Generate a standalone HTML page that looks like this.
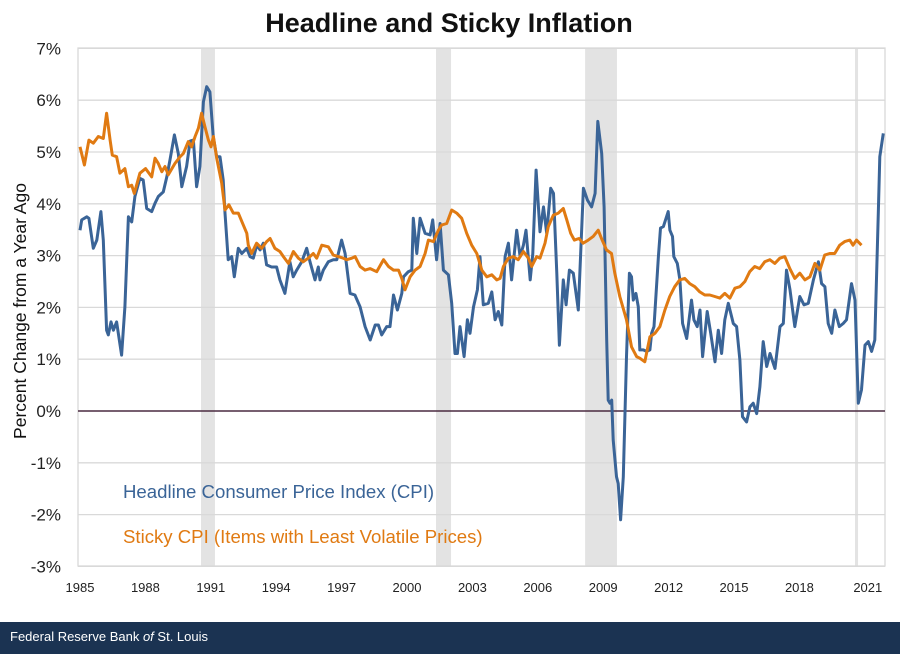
<!DOCTYPE html>
<html><head><meta charset="utf-8">
<style>
body{margin:0;background:#fff;width:900px;height:654px;overflow:hidden;font-family:"Liberation Sans",sans-serif;}
#footer{position:absolute;left:0;top:622px;width:900px;height:32px;background:#1b3352;color:#fff;font-size:13px;line-height:30px;padding-left:10px;box-sizing:border-box;}
</style></head><body>
<svg id="chart" width="900" height="622" style="position:absolute;left:0;top:0"></svg>
<div id="footer">Federal Reserve Bank <i>of</i> St. Louis</div>
<script>
const yTicks=[7,6,5,4,3,2,1,0,-1,-2,-3];
const xTickYears=[1985,1988,1991,1994,1997,2000,2003,2006,2009,2012,2015,2018,2021];
const recessions=[[1990.55,1991.19],[2001.33,2002.02],[2008.17,2009.63],[2020.55,2020.69]];
const cpiYears=[1985.0,1985.08,1985.31,1985.41,1985.61,1985.77,1985.96,1986.07,1986.22,1986.30,1986.42,1986.53,1986.68,1986.91,1987.06,1987.22,1987.37,1987.52,1987.75,1987.90,1988.06,1988.29,1988.44,1988.59,1988.82,1988.98,1989.13,1989.33,1989.51,1989.67,1989.89,1990.05,1990.20,1990.35,1990.50,1990.66,1990.81,1990.96,1991.11,1991.27,1991.42,1991.57,1991.65,1991.80,1991.96,1992.08,1992.26,1992.42,1992.65,1992.80,1992.95,1993.11,1993.26,1993.41,1993.56,1993.79,1994.02,1994.17,1994.40,1994.63,1994.78,1994.94,1995.17,1995.40,1995.55,1995.78,1995.93,1996.01,1996.16,1996.39,1996.62,1996.78,1997.00,1997.16,1997.39,1997.61,
1997.85,1998.08,1998.31,1998.54,1998.69,1998.84,1999.07,1999.22,1999.38,1999.56,1999.76,1999.84,2000.06,2000.22,2000.29,2000.45,2000.60,2000.83,2001.06,2001.18,2001.36,2001.52,2001.67,2001.90,2002.05,2002.20,2002.31,2002.43,2002.62,2002.77,2002.89,2003.05,2003.23,2003.35,2003.50,2003.73,2003.89,2004.04,2004.19,2004.35,2004.50,2004.65,2004.80,2005.03,2005.19,2005.34,2005.46,2005.65,2005.77,2005.92,2006.10,2006.26,2006.41,2006.59,2006.72,2006.87,2006.99,2007.17,2007.30,2007.45,2007.63,2007.86,2008.09,2008.28,2008.47,2008.63,2008.75,2008.93,2009.04,2009.16,2009.23,2009.31,2009.39,2009.46,2009.61,2009.69,2009.80,2009.92,2010.07,2010.20,2010.30,2010.38,2010.50,2010.61,2010.68,2010.84,2010.99,2011.14,2011.22,2011.33,2011.53,2011.63,2011.76,2011.98,2012.06,2012.18,2012.24,2012.40,2012.52,2012.64,2012.83,2013.05,2013.16,2013.31,2013.44,2013.56,2013.77,2013.93,2014.13,2014.28,2014.43,2014.58,2014.74,2014.97,2015.12,2015.27,2015.39,2015.58,2015.73,2015.88,2016.04,2016.19,2016.34,2016.50,2016.65,2016.88,2017.11,2017.26,2017.41,2017.57,2017.79,2018.02,2018.21,2018.41,2018.64,2018.87,2019.02,2019.17,2019.32,2019.48,2019.63,2019.83,2020.01,2020.16,2020.39,2020.55,2020.70,2020.85,2021.01,2021.16,2021.31,2021.46,2021.62,2021.69,2021.85];
const cpiValues=[3.49,3.69,3.75,3.72,3.14,3.30,3.85,3.30,1.56,1.47,1.72,1.56,1.72,1.08,2.01,3.75,3.65,4.14,4.49,4.46,3.91,3.85,4.01,4.14,4.23,4.52,4.85,5.33,4.97,4.33,4.72,5.21,5.23,4.33,4.72,5.97,6.26,6.16,5.30,4.91,4.91,4.46,3.82,2.92,2.98,2.59,3.14,3.04,3.14,2.98,2.95,3.20,3.11,3.24,2.82,2.78,2.78,2.53,2.27,2.88,2.59,2.72,2.88,3.14,2.88,2.53,2.78,2.53,2.72,2.88,2.92,2.92,3.30,3.04,2.27,2.24,
2.01,1.63,1.37,1.66,1.66,1.47,1.63,1.63,2.24,1.95,2.27,2.59,2.69,2.72,3.72,3.04,3.72,3.43,3.40,3.69,2.92,3.62,2.72,2.63,2.08,1.11,1.11,1.63,1.05,1.76,1.50,2.01,2.34,2.98,2.05,2.08,2.30,1.76,1.92,1.66,2.98,3.24,2.53,3.49,2.98,3.20,3.49,2.53,3.04,4.65,3.46,3.94,3.43,4.30,4.20,2.66,1.27,2.53,2.05,2.72,2.66,1.95,4.30,4.07,3.94,4.20,5.59,4.97,3.94,1.37,0.21,0.15,0.21,-0.56,-1.27,-1.40,-2.10,-1.27,1.05,2.66,2.59,2.14,2.27,2.01,1.18,1.18,1.15,1.18,1.50,1.63,2.98,3.53,3.56,3.85,3.49,3.37,2.98,2.85,2.53,1.69,1.40,2.14,1.76,1.63,1.95,1.05,1.92,1.50,0.95,1.56,1.11,1.76,2.08,1.69,1.63,0.98,-0.11,-0.21,0.08,0.15,-0.05,0.47,1.34,0.86,1.11,0.82,1.63,1.69,2.72,2.34,1.63,2.21,2.05,2.08,2.53,2.88,2.46,2.40,1.69,1.50,1.95,1.63,1.69,1.76,2.46,2.14,0.15,0.41,1.27,1.34,1.15,1.37,3.82,4.91,5.36];
const stickyYears=[1985.0,1985.20,1985.41,1985.61,1985.84,1986.07,1986.22,1986.38,1986.48,1986.68,1986.83,1987.06,1987.22,1987.37,1987.49,1987.75,1988.01,1988.29,1988.44,1988.59,1988.75,1988.90,1989.05,1989.36,1989.59,1989.74,1989.97,1990.12,1990.28,1990.43,1990.58,1990.73,1990.89,1991.01,1991.12,1991.27,1991.50,1991.65,1991.83,1992.03,1992.26,1992.42,1992.65,1992.72,1992.87,1993.10,1993.33,1993.56,1993.72,1993.94,1994.17,1994.33,1994.56,1994.79,1995.02,1995.24,1995.47,1995.70,1995.86,1996.09,1996.39,1996.62,1996.85,
1997.08,1997.24,1997.47,1997.62,1997.85,1998.08,1998.31,1998.61,1998.92,1999.15,1999.38,1999.61,1999.76,1999.91,2000.14,2000.37,2000.60,2000.83,2000.98,2001.21,2001.44,2001.59,2001.82,2002.05,2002.28,2002.51,2002.74,2002.97,2003.20,2003.43,2003.66,2003.89,2004.12,2004.27,2004.42,2004.65,2004.88,2005.10,2005.34,2005.57,2005.72,2005.95,2006.10,2006.33,2006.48,2006.71,2006.94,2007.17,2007.33,2007.51,2007.68,2007.89,2008.08,2008.31,2008.54,2008.77,2008.92,2009.15,2009.38,2009.53,2009.76,2010.07,2010.30,2010.53,2010.68,2010.91,2011.14,2011.37,2011.60,2011.83,2012.05,2012.28,2012.51,2012.74,2012.97,2013.20,2013.43,2013.66,2013.89,2014.12,2014.35,2014.58,2014.81,2015.04,2015.27,2015.50,2015.72,2015.95,2016.18,2016.41,2016.64,2016.87,2017.10,2017.33,2017.56,2017.79,2018.02,2018.25,2018.48,2018.71,2018.94,2019.16,2019.39,2019.62,2019.85,2020.08,2020.31,2020.46,2020.62,2020.85];
const stickyValues=[5.10,4.75,5.23,5.17,5.30,5.26,5.75,5.23,4.94,4.91,4.59,4.68,4.33,4.36,4.20,4.59,4.68,4.52,4.88,4.78,4.62,4.72,4.56,4.78,4.91,4.97,5.20,5.10,5.30,5.46,5.75,5.49,5.23,5.10,5.30,4.88,4.40,3.88,3.98,3.82,3.82,3.66,3.43,3.20,3.04,3.24,3.14,3.27,3.33,3.14,3.08,2.98,2.85,3.08,2.95,2.88,2.95,3.04,2.95,3.20,3.17,3.01,2.98,
2.95,2.92,2.95,2.98,2.79,2.72,2.75,2.69,2.92,2.79,2.72,2.72,2.56,2.34,2.59,2.72,2.79,3.04,3.30,3.27,3.49,3.59,3.62,3.88,3.82,3.72,3.43,3.20,3.04,2.72,2.59,2.63,2.53,2.56,2.79,2.95,2.98,2.92,3.08,2.95,2.79,2.98,2.95,3.24,3.56,3.78,3.82,3.91,3.69,3.43,3.30,3.33,3.24,3.30,3.37,3.49,3.33,3.11,3.04,2.66,2.21,1.76,1.24,1.05,1.02,0.95,1.43,1.50,1.63,1.95,2.21,2.40,2.53,2.56,2.46,2.40,2.30,2.24,2.24,2.21,2.18,2.27,2.18,2.37,2.40,2.50,2.69,2.79,2.75,2.88,2.92,2.85,2.95,2.98,2.75,2.56,2.66,2.53,2.59,2.85,2.72,3.01,3.04,3.04,3.20,3.27,3.30,3.20,3.30,3.20,2.88,2.66,2.72,2.62];

const NS="http://www.w3.org/2000/svg";
const svg=document.getElementById('chart');
const L=78,R=885,T=48,B=566;
const xs=t=>80+(t-1985)*21.8;
const ys=v=>411-v*51.8;
function mk(tag,attrs,parent){const e=document.createElementNS(NS,tag);for(const k in attrs)e.setAttribute(k,attrs[k]);(parent||svg).appendChild(e);return e;}

const title=mk('text',{x:449,y:32,'text-anchor':'middle','font-size':'27','font-weight':'bold',fill:'#111'});
title.textContent='Headline and Sticky Inflation';



recessions.forEach(r=>{
  const e=mk('rect',{x:xs(r[0]),y:T,width:xs(r[1])-xs(r[0]),height:B-T,fill:'#e3e3e3'});
  
  
});
yTicks.forEach(v=>{
  if(v!==0){const g=mk('line',{x1:L,x2:R,y1:ys(v),y2:ys(v),stroke:'#d9d9d9','stroke-width':1.3});
  
  }
  const t=mk('text',{x:61,y:ys(v)+6,'text-anchor':'end','font-size':'17',fill:'#222'});
  t.textContent=v+'%';
  
  
});
const border=mk('rect',{x:L,y:T,width:R-L,height:B-T,fill:'none',stroke:'#d9d9d9','stroke-width':1.3});


xTickYears.forEach(yr=>{
  const t=mk('text',{x:xs(yr)+(yr===2021?3:0),y:592,'text-anchor':'middle','font-size':'13',fill:'#222'});
  t.textContent=yr;
  
  
});
const zl=mk('line',{x1:L,x2:R,y1:ys(0),y2:ys(0),stroke:'#4a2a40','stroke-width':1.5});


const yt=mk('text',{x:26,y:311,'text-anchor':'middle','font-size':'17.5',fill:'#111',transform:'rotate(-90 26 311)'});
yt.textContent='Percent Change from a Year Ago';



function line(xsA,vs,color,name){
  const d=xsA.map((t,i)=>(i?'L':'M')+xs(t).toFixed(1)+','+ys(vs[i]).toFixed(1)).join('');
  const p=mk('path',{d:d,fill:'none',stroke:color,'stroke-width':3,'stroke-linejoin':'round'});
  
  
}
line(cpiYears,cpiValues,'#3a6497','headline-cpi-line');
line(stickyYears,stickyValues,'#e07a12','sticky-cpi-line');

const l1=mk('text',{x:123,y:498,'font-size':'18.6',fill:'#3a6497'});
l1.textContent='Headline Consumer Price Index (CPI)';


const l2=mk('text',{x:123,y:543,'font-size':'18.6',fill:'#e07a12'});
l2.textContent='Sticky CPI (Items with Least Volatile Prices)';


</script>
</body></html>
